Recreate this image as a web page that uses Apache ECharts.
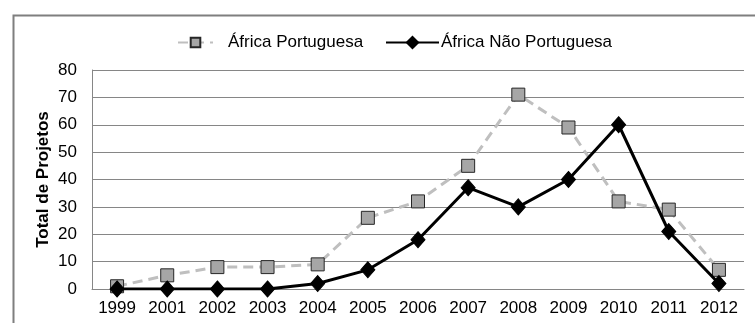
<!DOCTYPE html>
<html>
<head>
<meta charset="utf-8">
<script src="https://cdn.jsdelivr.net/npm/echarts@6/dist/echarts.min.js"></script>
<style>
  html, body { margin: 0; padding: 0; background: #fff; }
  #chart { width: 755px; height: 323px; }
</style>
</head>
<body>
<div id="chart"></div>
<script>
// Projects per year, split between Portuguese-speaking and other African countries
const years = ['1999', '2001', '2002', '2003', '2004', '2005', '2006', '2007', '2008', '2009', '2010', '2011', '2012'];
const africaPortuguesa = [1, 5, 8, 8, 9, 26, 32, 45, 71, 59, 32, 29, 7];
const africaNaoPortuguesa = [0, 0, 0, 0, 2, 7, 18, 37, 30, 40, 60, 21, 2];
const seriesNames = ['África Portuguesa', 'África Não Portuguesa'];
const yAxisName = 'Total de Projetos';

const FONT = '"Liberation Sans", Arial, sans-serif';

const chart = echarts.init(document.getElementById('chart'), null, { renderer: 'canvas' });

chart.setOption({
  animation: false,
  backgroundColor: '#ffffff',
  textStyle: { fontFamily: FONT },
  graphic: [{
    type: 'rect',
    left: 11, top: 13,
    shape: { width: 800, height: 400 },
    style: { fill: 'none', stroke: '#7f7f7f', lineWidth: 2 },
    silent: true,
    z: -1
  }],
  legend: [{
    data: [seriesNames[0]],
    left: 172, top: 29,
    itemWidth: 35, itemHeight: 12,
    textStyle: { fontSize: 17, color: '#000', fontFamily: FONT, padding: [0, 0, 0, 10] }
  }, {
    data: [seriesNames[1]],
    left: 380, top: 29,
    itemWidth: 53, itemHeight: 14,
    itemGap: 0,
    textStyle: { fontSize: 17, color: '#000', fontFamily: FONT, padding: [0, 0, 0, -3] }
  }],
  grid: { left: 92, right: 11, top: 70, bottom: 34, containLabel: false },
  xAxis: {
    type: 'category',
    data: years,
    boundaryGap: true,
    axisLine: { lineStyle: { color: '#868686', width: 1 } },
    axisTick: { show: false },
    axisLabel: { fontSize: 17, color: '#000', margin: 11, fontFamily: FONT }
  },
  yAxis: {
    type: 'value',
    min: 0, max: 80, interval: 10,
    name: yAxisName,
    nameLocation: 'middle',
    nameGap: 40,
    nameMoveOverlap: false,
    nameTextStyle: { fontSize: 17, fontWeight: 'bold', color: '#000', fontFamily: FONT },
    axisLine: { show: true, lineStyle: { color: '#868686', width: 1 } },
    axisTick: { show: false },
    axisLabel: { fontSize: 17, color: '#000', margin: 15, fontFamily: FONT },
    splitLine: { lineStyle: { color: '#868686', width: 1 } }
  },
  series: [{
    name: seriesNames[0],
    type: 'line',
    data: africaPortuguesa,
    symbol: 'rect',
    symbolSize: 13,
    lineStyle: { color: '#bfbfbf', width: 3, type: [10, 6] },
    itemStyle: { color: '#a6a6a6', borderColor: '#262626', borderWidth: 1 },
    z: 2
  }, {
    name: seriesNames[1],
    type: 'line',
    data: africaNaoPortuguesa,
    symbol: 'diamond',
    symbolSize: [14, 16],
    lineStyle: { color: '#000', width: 3 },
    itemStyle: { color: '#000', borderColor: '#000', borderWidth: 1 },
    z: 3
  }]
});
</script>
</body>
</html>
